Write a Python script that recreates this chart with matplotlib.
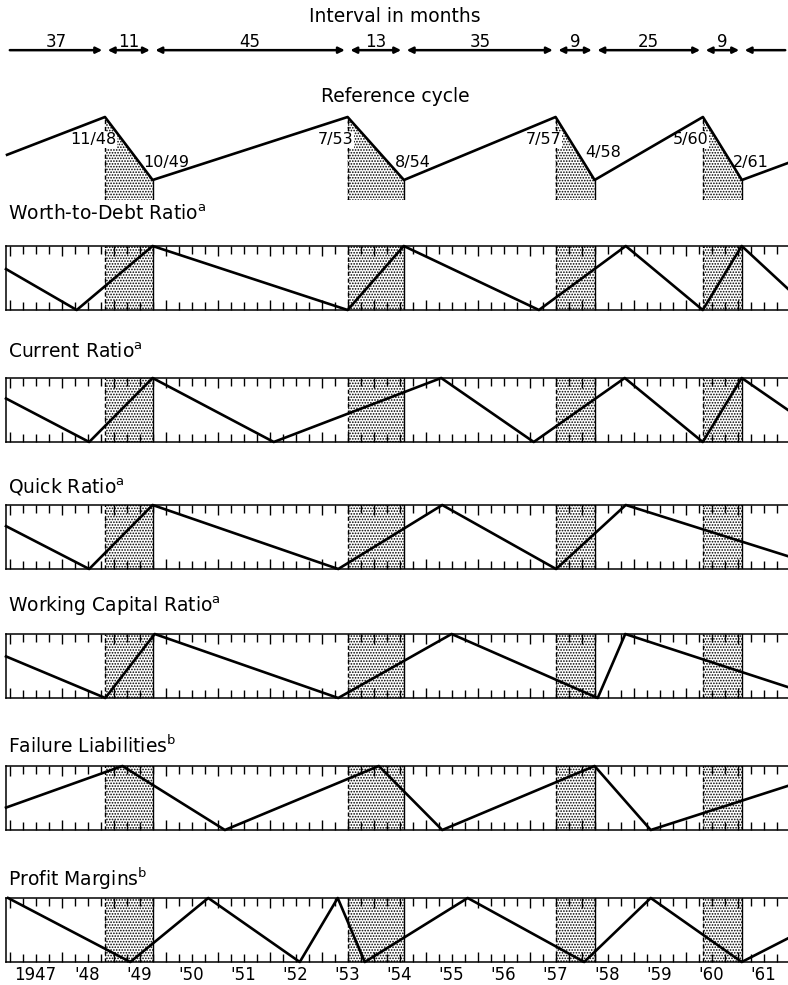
import numpy as np
import matplotlib
matplotlib.use("Agg")
import matplotlib.pyplot as plt

plt.rcParams['font.family'] = ['DejaVu Sans']
plt.rcParams['hatch.linewidth'] = 0.8

# reference cycle turning points (month/year)
ref_labels = ["11/48", "10/49", "7/53", "8/54", "7/57", "4/58", "5/60", "2/61"]
ref_start = 0.40
ref_end = 0.27
interval_months = ["37", "11", "45", "13", "35", "9", "25", "9", ""]

# series: dates (decimal years) and relative level (1 = peak, 0 = trough)
wd_x = [1946.93, 1948.29, 1949.75, 1953.50, 1954.58, 1957.18, 1958.85, 1960.33, 1961.08, 1961.97]
wd_y = [0.64, 0, 1, 0, 1, 0, 1, 0, 1, 0.33]
cr_x = [1946.93, 1948.53, 1949.75, 1952.08, 1955.30, 1957.08, 1958.83, 1960.33, 1961.08, 1961.97]
cr_y = [0.68, 0, 1, 0, 1, 0, 1, 0, 1, 0.50]
qr_x = [1946.93, 1948.53, 1949.75, 1953.32, 1955.32, 1957.51, 1958.85, 1961.97]
qr_y = [0.67, 0, 1, 0, 1, 0, 1, 0.20]
wc_x = [1946.93, 1948.84, 1949.79, 1953.32, 1955.50, 1958.31, 1958.84, 1961.97]
wc_y = [0.65, 0, 1, 0, 1, 0, 1, 0.17]
fl_x = [1946.93, 1949.17, 1951.14, 1954.10, 1955.32, 1958.25, 1959.33, 1961.97]
fl_y = [0.35, 1, 0, 1, 0, 1, 0, 0.69]
pm_x = [1946.97, 1949.32, 1950.82, 1952.58, 1953.31, 1953.83, 1955.81, 1958.05, 1959.33, 1961.08, 1961.97]
pm_y = [1, 0, 1, 0, 1, 0, 1, 0, 1, 0, 0.37]

series = [
    ("Worth-to-Debt Ratio$^{\\mathrm{a}}$", wd_x, wd_y),
    ("Current Ratio$^{\\mathrm{a}}$", cr_x, cr_y),
    ("Quick Ratio$^{\\mathrm{a}}$", qr_x, qr_y),
    ("Working Capital Ratio$^{\\mathrm{a}}$", wc_x, wc_y),
    ("Failure Liabilities$^{\\mathrm{b}}$", fl_x, fl_y),
    ("Profit Margins$^{\\mathrm{b}}$", pm_x, pm_y),
]
year_labels = ["1947", "'48", "'49", "'50", "'51", "'52", "'53", "'54",
               "'55", "'56", "'57", "'58", "'59", "'60", "'61"]

W, H = 788, 985
X0, X1 = 1946.93, 1961.97


def to_year(lbl):
    m, y = lbl.split("/")
    return 1900 + int(y) + (int(m) - 1) / 12.0


ref_dates = [to_year(l) for l in ref_labels]
peaks = ref_dates[0::2]
troughs = ref_dates[1::2]

fig = plt.figure(figsize=(W / 100, H / 100), dpi=100)


def px_axes(top, bottom):
    return fig.add_axes([6 / W, 1 - bottom / H, (W - 6) / W, (bottom - top) / H])


# ---- interval row
fig.text(395 / W, 1 - 17 / H, "Interval in months", ha="center", va="center", fontsize=13.5)
axi = px_axes(30, 62)
axi.set_xlim(X0, X1)
axi.set_ylim(0, 1)
axi.axis("off")
bounds = [X0 + 0.02] + ref_dates + [X1]
for i, lab in enumerate(interval_months):
    a, b = bounds[i], bounds[i + 1]
    if i == 0:
        style = "-|>"
    elif i == len(interval_months) - 1:
        style = "<|-"
    else:
        style = "<|-|>"
    axi.annotate("", xy=(b, 0.37), xytext=(a, 0.37),
                 arrowprops=dict(arrowstyle=style, lw=1.8, color="k",
                                 mutation_scale=9, shrinkA=2, shrinkB=2))
    if lab:
        axi.text((a + b) / 2, 0.64, lab, ha="center", va="center", fontsize=12)

# ---- reference cycle
fig.text(395 / W, 1 - 97 / H, "Reference cycle", ha="center", va="center", fontsize=13.5)
axr = px_axes(112, 200)
axr.set_xlim(X0, X1)
base = -(200 - 180) / 63
axr.set_ylim(base, 1 + (117 - 112) / 63)
axr.axis("off")
rx = [X0 + 0.02] + ref_dates + [X1]
ry = [ref_start] + [1, 0] * 4 + [ref_end]
for p, t in zip(peaks, troughs):
    axr.fill_between([p, t], [1, 0], base, facecolor="white", edgecolor="k",
                     hatch="......", lw=0, zorder=1)
    axr.plot([p, p], [base, 1], ls=(0, (3, 2)), color="k", lw=1.0, zorder=2)
    axr.plot([t, t], [base, 0], color="k", lw=1.0, zorder=2)
axr.plot(rx, ry, color="k", lw=1.9, zorder=4, clip_on=False)
for i, (d, lab) in enumerate(zip(ref_dates, ref_labels)):
    if i % 2 == 0:
        axr.annotate(lab, (d, 1), xytext=(-12, -23), textcoords="offset pixels",
                     ha="center", va="center", fontsize=11.5, zorder=3,
                     bbox=dict(fc="white", ec="none", pad=0.5))
    else:
        dy = 28 if lab == "4/58" else 18
        axr.annotate(lab, (d, 0), xytext=(-9, dy), textcoords="offset pixels",
                     ha="left", va="center", fontsize=11.5, zorder=3,
                     bbox=dict(fc="white", ec="none", pad=0.5))

# ---- indicator panels
tops = [246, 378, 505, 634, 766, 898]
title_y = [214, 352, 487, 606, 746, 879]
ph = 64
for k, (title, xs, ys) in enumerate(series):
    top = tops[k]
    ax = px_axes(top, top + ph)
    ax.set_xlim(X0, X1)
    ax.set_ylim(0, 1)
    fig.text(8 / W, 1 - title_y[k] / H, title, ha="left", va="center", fontsize=13.5)
    for p, t in zip(peaks, troughs):
        ax.axvspan(p, t, facecolor="white", edgecolor="k", hatch="......", lw=0, zorder=0)
        ax.axvline(p, ls=(0, (3, 2)), color="k", lw=1.0, zorder=1)
        ax.axvline(t, color="k", lw=1.0, zorder=1)
    ax.plot(xs, ys, color="k", lw=1.9, zorder=3, clip_on=False)
    for s in ["left", "top", "bottom"]:
        ax.spines[s].set_linewidth(1.1)
    ax.spines["right"].set_visible(False)
    ax.set_yticks([])
    ax.set_xticks(np.arange(1947, 1962))
    ax.set_xticks(np.arange(1947, 1962, 0.25), minor=True)
    ax.tick_params(axis="x", which="major", direction="in", top=True, bottom=True,
                   length=7.5, width=1.0, labelbottom=False)
    ax.tick_params(axis="x", which="minor", direction="in", top=True, bottom=True,
                   length=5.5, width=1.0)
    if k == len(series) - 1:
        sec = ax.secondary_xaxis("bottom")
        sec.set_xticks(np.arange(1947, 1962) + 0.5, year_labels)
        sec.tick_params(length=0, labelsize=12, pad=3)
        sec.spines["bottom"].set_visible(False)

fig.savefig("out.png", dpi=100)
